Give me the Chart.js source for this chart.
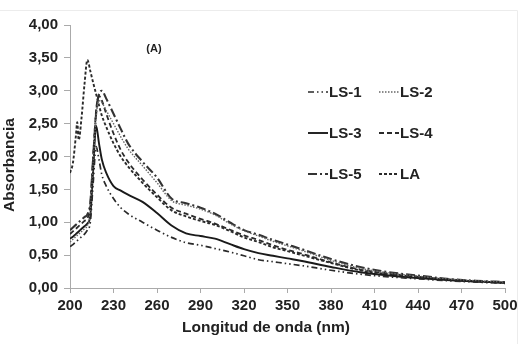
<!DOCTYPE html>
<html>
<head>
<meta charset="utf-8">
<script src="https://cdn.jsdelivr.net/npm/chart.js@4.4.1/dist/chart.umd.min.js"></script>
<style>
  html, body { margin: 0; padding: 0; background: #fff; }
  #wrap { width: 522px; height: 344px; position: relative; }
</style>
</head>
<body>
<div id="wrap"><canvas id="grafico"></canvas></div>
<script>
// longitud de onda (nm)
const onda = [200,202,204,205,206,208,210,212,214,216,218,220,222,225,230,235,240,250,260,270,280,290,300,310,320,330,340,350,360,380,400,420,440,460,480,500];

const ls1 = [0.63,0.66,0.70,0.72,0.74,0.78,0.82,0.88,1.00,1.60,2.15,1.95,1.72,1.55,1.36,1.22,1.13,1.00,0.88,0.77,0.69,0.65,0.60,0.55,0.49,0.43,0.40,0.37,0.34,0.27,0.21,0.17,0.14,0.11,0.09,0.07];
const ls2 = [0.70,0.74,0.78,0.80,0.82,0.86,0.90,0.95,1.15,1.90,2.60,2.85,2.82,2.70,2.50,2.30,2.12,1.86,1.60,1.33,1.26,1.20,1.11,0.98,0.87,0.79,0.71,0.64,0.57,0.42,0.30,0.23,0.18,0.14,0.11,0.09];
const ls3 = [0.75,0.78,0.82,0.84,0.86,0.90,0.94,0.98,1.10,1.80,2.47,2.20,1.95,1.75,1.55,1.48,1.42,1.31,1.14,0.95,0.83,0.79,0.75,0.67,0.59,0.53,0.49,0.45,0.41,0.32,0.24,0.19,0.15,0.12,0.10,0.08];
const ls4 = [0.82,0.86,0.90,0.92,0.94,0.98,1.02,1.06,1.25,2.00,2.70,2.92,2.85,2.65,2.35,2.10,1.92,1.65,1.42,1.22,1.13,1.05,0.98,0.89,0.80,0.73,0.65,0.58,0.52,0.39,0.28,0.22,0.17,0.13,0.10,0.08];
const ls5 = [0.88,0.92,0.96,0.98,1.00,1.04,1.08,1.12,1.30,2.00,2.65,2.95,3.00,2.88,2.65,2.42,2.20,1.92,1.68,1.36,1.29,1.22,1.13,1.00,0.88,0.81,0.73,0.66,0.59,0.44,0.32,0.24,0.19,0.14,0.11,0.09];
const la  = [1.75,1.90,2.30,2.52,2.25,2.60,3.10,3.47,3.30,3.12,2.95,2.78,2.62,2.45,2.20,2.00,1.85,1.60,1.38,1.18,1.09,1.02,0.96,0.87,0.77,0.70,0.62,0.56,0.50,0.38,0.27,0.21,0.17,0.13,0.10,0.08];

const nombres = ['LS-1','LS-2','LS-3','LS-4','LS-5','LA'];
const ticksX = [200,230,260,290,320,350,380,410,440,470,500];

const estilos = [
  { color: '#2a2a2a', width: 1.7, dash: [6,3,1.5,3,1.5,3] },
  { color: '#666', width: 1.4, dash: [1.5,1.5] },
  { color: '#1a1a1a', width: 1.9, dash: [] },
  { color: '#2a2a2a', width: 1.8, dash: [5,3] },
  { color: '#333', width: 2.1, dash: [9,3,2,3] },
  { color: '#2a2a2a', width: 1.9, dash: [3,2] }
];

const series = [ls1, ls2, ls3, ls4, ls5, la];

const datasets = series.map(function(s, i){
  return {
    label: nombres[i],
    data: s.map(function(v, j){ return { x: onda[j], y: v }; }),
    borderColor: estilos[i].color,
    borderWidth: estilos[i].width,
    borderDash: estilos[i].dash,
    pointRadius: 0,
    fill: false,
    cubicInterpolationMode: 'monotone'
  };
});

const fuente = "'Liberation Sans', Arial, sans-serif";

// leyenda, etiqueta (A), titulos de ejes
const extras = {
  id: 'extras',
  afterDraw: function(chart){
    const c = chart.ctx;
    c.save();
    c.strokeStyle = '#ececec';
    c.lineWidth = 1;
    c.beginPath();
    c.moveTo(0, 10.5); c.lineTo(517.5, 10.5); c.lineTo(517.5, 344);
    c.stroke();

    c.fillStyle = '#222';
    c.font = 'bold 11px ' + fuente;
    c.textAlign = 'center';
    c.textBaseline = 'middle';
    c.fillText('(A)', 154, 49);

    c.font = 'bold 15.5px ' + fuente;
    c.fillText('Longitud de onda (nm)', 266, 328);
    c.save();
    c.translate(10, 165);
    c.rotate(-Math.PI/2);
    c.fillText('Absorbancia', 0, 0);
    c.restore();

    const cols = [308, 379];
    const rows = [92, 133, 174];
    c.font = 'bold 15px ' + fuente;
    c.textAlign = 'left';
    chart.data.datasets.forEach(function(ds, i){
      const x = cols[i % 2];
      const y = rows[Math.floor(i / 2)];
      c.save();
      c.strokeStyle = ds.borderColor;
      c.lineWidth = ds.borderWidth;
      c.setLineDash(ds.borderDash);
      c.beginPath();
      c.moveTo(x, y); c.lineTo(x + 20, y);
      c.stroke();
      c.restore();
      c.fillStyle = '#222';
      c.fillText(ds.label, x + 21, y + 1);
    });
    c.restore();
  }
};

new Chart(document.getElementById('grafico'), {
  type: 'line',
  data: { datasets: datasets },
  options: {
    responsive: true,
    maintainAspectRatio: false,
    animation: false,
    layout: { padding: { top: 25, right: 17, left: 0, bottom: 0 } },
    plugins: { legend: { display: false }, tooltip: { enabled: false } },
    scales: {
      x: {
        type: 'linear',
        min: 200, max: 500,
        afterBuildTicks: function(scale){ scale.ticks = ticksX.map(function(v){ return { value: v }; }); },
        afterFit: function(scale){ scale.height = 56; },
        grid: { drawOnChartArea: false, drawTicks: true, tickLength: 5, color: '#aaa' },
        border: { color: '#aaa', width: 1 },
        ticks: { color: '#222', padding: 4, maxRotation: 0, font: { family: fuente, size: 15, weight: 'bold' } }
      },
      y: {
        min: 0, max: 4,
        afterFit: function(scale){ scale.width = 70; },
        grid: { drawOnChartArea: false, drawTicks: true, tickLength: 6, color: '#aaa' },
        border: { color: '#aaa', width: 1 },
        ticks: {
          stepSize: 0.5,
          color: '#222',
          padding: 6,
          font: { family: fuente, size: 15, weight: 'bold' },
          callback: function(v){ return v.toFixed(2).replace('.', ','); }
        }
      }
    }
  },
  plugins: [extras]
});
</script>
</body>
</html>
